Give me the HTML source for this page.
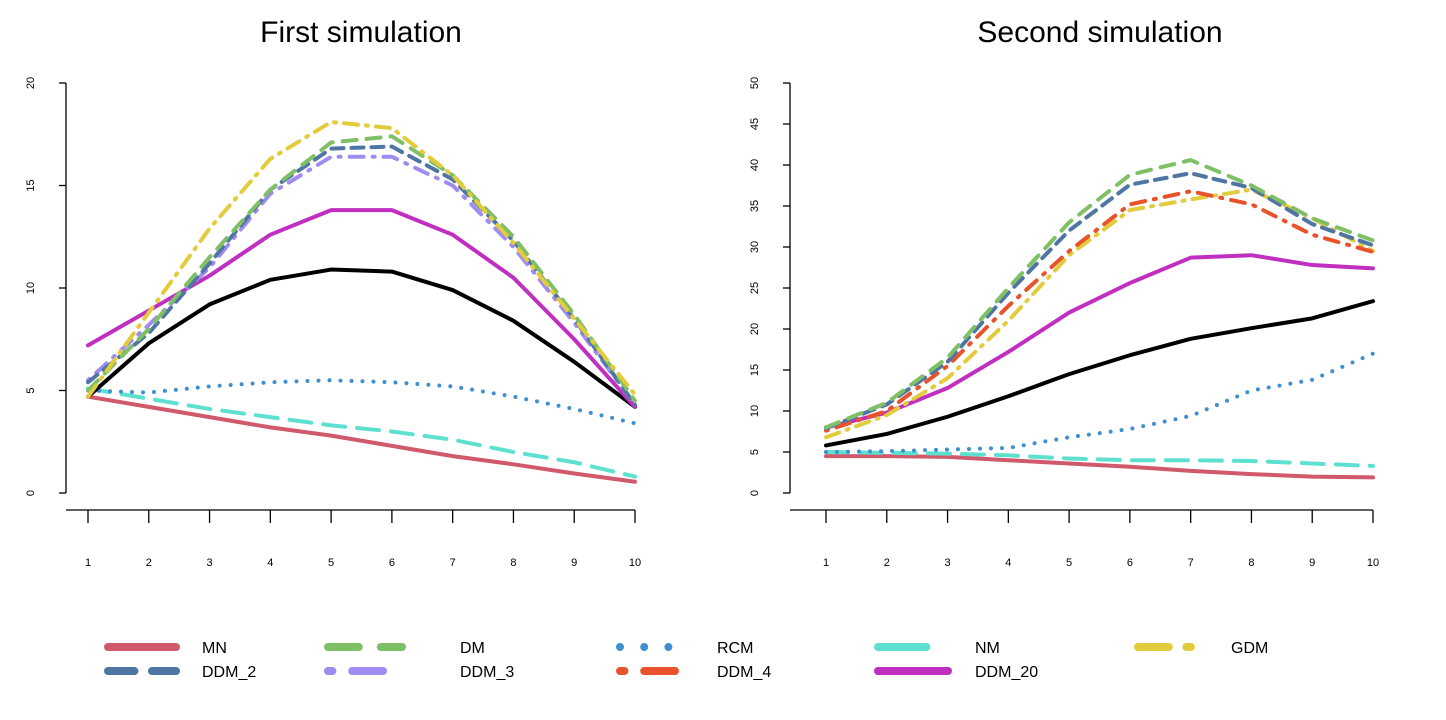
<!DOCTYPE html>
<html><head><meta charset="utf-8"><style>
body{margin:0;background:#fff;}
svg{display:block;font-family:"Liberation Sans",sans-serif;}
</style></head><body>
<svg id="c" width="1446" height="720"></svg>
<script>
const xCats=[1,2,3,4,5,6,7,8,9,10];
const leftTicks=[0,5,10,15,20];
const rightTicks=[0,5,10,15,20,25,30,35,40,45,50];
// First simulation
const L_MN=[4.7,4.2,3.7,3.2,2.8,2.3,1.8,1.4,0.95,0.55];
const L_NM=[5.1,4.6,4.1,3.7,3.3,3.0,2.6,2.0,1.5,0.8];
const L_RCM=[5.0,4.9,5.2,5.4,5.5,5.4,5.2,4.7,4.1,3.4];
const L_TRUE=[4.7,7.3,9.2,10.4,10.9,10.8,9.9,8.4,6.4,4.2];
const L_DDM20=[7.2,8.9,10.6,12.6,13.8,13.8,12.6,10.5,7.5,4.2];
const L_GDM=[4.7,8.8,12.9,16.3,18.1,17.8,15.5,12.2,8.5,4.8];
const L_DM=[5.0,8.0,11.5,14.8,17.1,17.4,15.5,12.5,8.7,4.5];
const L_DDM2=[5.4,7.8,11.2,14.8,16.8,16.9,15.3,12.3,8.5,4.3];
const L_DDM3=[5.5,8.2,11.0,14.6,16.4,16.4,15.0,12.0,8.3,4.3];
// Second simulation
const R_MN=[4.5,4.5,4.4,4.0,3.6,3.2,2.7,2.3,2.0,1.9];
const R_NM=[5.0,4.9,4.8,4.6,4.2,4.0,4.0,3.9,3.6,3.3];
const R_RCM=[5.0,5.1,5.3,5.5,6.8,7.8,9.4,12.5,13.8,17.0];
const R_TRUE=[5.8,7.2,9.3,11.8,14.5,16.8,18.8,20.1,21.3,23.4];
const R_DDM20=[8.0,9.8,12.8,17.2,22.0,25.6,28.7,29.0,27.8,27.4];
const R_DM=[8.0,11.0,16.5,25.0,33.0,38.8,40.6,37.5,33.5,30.8];
const R_DDM2=[7.9,10.8,16.0,24.4,32.0,37.6,39.0,37.2,32.8,30.2];
const R_DDM4=[7.6,10.0,15.5,22.8,29.5,35.2,36.8,35.2,31.5,29.4];
const R_GDM=[6.8,9.5,14.0,21.0,29.0,34.5,35.8,37.0,33.5,29.5];

const NS="http://www.w3.org/2000/svg";
const svg=document.getElementById('c');
function mk(t,a,p){const e=document.createElementNS(NS,t);for(const k in a)e.setAttribute(k,a[k]);(p||svg).appendChild(e);return e;}
const ST={
 MN:{c:"#d0596b",d:""},DM:{c:"#7fc066",d:"14 10"},RCM:{c:"#3f8fd0",d:"0 11"},NM:{c:"#5ee0d0",d:"22 12"},
 GDM:{c:"#e3cc3b",d:"14 8 2 8"},DDM_2:{c:"#4f76a3",d:"12 8"},DDM_3:{c:"#a08cf0",d:"2 9 14 9"},
 DDM_4:{c:"#e8532b",d:"2 9 14 9"},DDM_20:{c:"#c02fc0",d:""},TRUE:{c:"#000",d:""}
};
function panel(name,title,x0,x1,ymax,ticks,series,axX,cx){
 const g=mk('g',{});
 
 
 const y0=493,yTop=83;
 const sx=v=>x0+(v-1)*(x1-x0)/9;
 const sy=v=>y0-(v/ymax)*(y0-yTop);
 const t=mk('text',{x:cx,y:42,'text-anchor':'middle','font-size':30,fill:'#000'},g);t.textContent=title;
 
 const ya=mk('line',{x1:axX,x2:axX,y1:sy(ticks[0]),y2:sy(ticks[ticks.length-1]),stroke:'#000','stroke-width':1.3},g);
 
 ticks.forEach(v=>{
  mk('line',{x1:axX-7,x2:axX,y1:sy(v),y2:sy(v),stroke:'#000','stroke-width':1.3},g);
  const tx=mk('text',{x:0,y:0,'font-size':11,'text-anchor':'middle',transform:`translate(${axX-32},${sy(v)}) rotate(-90)`},g);
  tx.textContent=v;
  
 });
 const xa=mk('line',{x1:axX,x2:sx(10),y1:510,y2:510,stroke:'#000','stroke-width':1.3},g);
 
 xCats.forEach(v=>{
  mk('line',{x1:sx(v),x2:sx(v),y1:510,y2:523,stroke:'#000','stroke-width':1.3},g);
  const tx=mk('text',{x:sx(v),y:566,'font-size':11,'text-anchor':'middle'},g);tx.textContent=v;
  
 });
 series.forEach(([k,arr])=>{
  const s=ST[k];
  const p=mk('polyline',{points:arr.map((v,i)=>sx(xCats[i])+','+sy(v)).join(' '),fill:'none',stroke:s.c,'stroke-width':4,'stroke-linecap':'round','stroke-linejoin':'round','stroke-dasharray':s.d},g);
  
  
 });
}
panel('first-simulation-chart','First simulation',88,635,20,leftTicks,
 [['MN',L_MN],['NM',L_NM],['RCM',L_RCM],['TRUE',L_TRUE],['DDM_20',L_DDM20],['DDM_3',L_DDM3],['DDM_2',L_DDM2],['DM',L_DM],['GDM',L_GDM]],66,361);
panel('second-simulation-chart','Second simulation',826,1373,50,rightTicks,
 [['MN',R_MN],['NM',R_NM],['RCM',R_RCM],['TRUE',R_TRUE],['DDM_20',R_DDM20],['GDM',R_GDM],['DDM_4',R_DDM4],['DDM_2',R_DDM2],['DM',R_DM]],790,1100);
// legend
const legRows=[["MN","DM","RCM","NM","GDM"],["DDM_2","DDM_3","DDM_4","DDM_20"]];
const colS=[108,328,620,878,1138],colE=[176,402,692,948,1202],colT=[202,460,717,975,1231];
const lg=mk('g',{});


legRows.forEach((row,r)=>{row.forEach((k,c)=>{
 const y=647+r*24;const s=ST[k];
 const e=mk('g',{},lg);
 
 
 mk('line',{x1:colS[c],x2:colE[c],y1:y,y2:y,stroke:s.c,'stroke-width':8,'stroke-linecap':'round','stroke-dasharray':s.d?s.d.split(' ').map(n=>n*2.2).join(' '):''},e);
 const t=mk('text',{x:colT[c],y:y+6,'font-size':16},e);t.textContent=k;
});});
</script>
</body></html>
